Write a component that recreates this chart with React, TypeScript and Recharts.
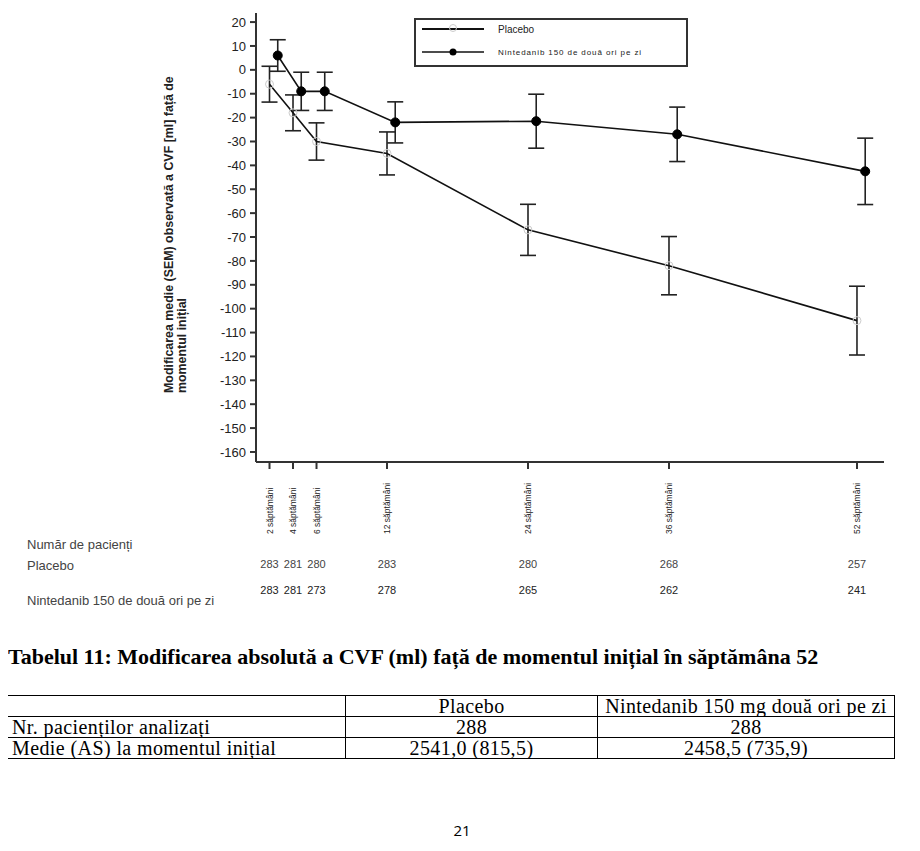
import { LineChart, Line, XAxis, YAxis, ErrorBar, Legend } from "recharts";

// weeks on study and the tick labels shown under the x axis
const weeks = [2, 4, 6, 12, 24, 36, 52];
const weekLabels = [
  "2 săptămâni",
  "4 săptămâni",
  "6 săptămâni",
  "12 săptămâni",
  "24 săptămâni",
  "36 săptămâni",
  "52 săptămâni",
];

// mean change from baseline (ml) and SEM
const placeboMean = [-6, -18, -30, -35, -67, -82, -105];
const placeboSem = [7.5, 7.5, 7.8, 9, 10.7, 12.2, 14.4];
const nintedanibMean = [6, -9, -9, -22, -21.5, -27, -42.5];
const nintedanibSem = [6.6, 8, 8, 8.6, 11.3, 11.4, 13.9];

// patients at each visit
const placeboN = [283, 281, 280, 283, 280, 268, 257];
const nintedanibN = [283, 281, 273, 278, 265, 262, 241];

const yTicks = [20, 10, 0, -10, -20, -30, -40, -50, -60, -70, -80, -90, -100, -110, -120, -130, -140, -150, -160];

// nintedanib points are nudged right so the error bars don't overlap
const NIN_SHIFT = 0.7;

const placeboRows = weeks.map((w, i) => ({ x: w, y: placeboMean[i], sem: placeboSem[i] }));
const nintedanibRows = weeks.map((w, i) => ({ x: w + NIN_SHIFT, y: nintedanibMean[i], sem: nintedanibSem[i] }));

const X_DOMAIN: [number, number] = [0.85, 54.3];
const Y_DOMAIN: [number, number] = [-164.2, 23.8];

const SANS = "'Liberation Sans', Arial, sans-serif";
const SERIF = "'Liberation Serif', 'Times New Roman', serif";

function WeekTick(props: any) {
  const { x, payload } = props;
  const i = weeks.indexOf(payload.value);
  const bx = x + 3;
  return (
    <g fontFamily={SANS}>
      <text x={bx} y={534} transform={`rotate(-90 ${bx} 534)`} fontSize={8.5} fill="#222">
        {weekLabels[i]}
      </text>
      <text x={x} y={568} textAnchor="middle" fontSize={11} fill="#444">
        {placeboN[i]}
      </text>
      <text x={x} y={594} textAnchor="middle" fontSize={11} fill="#222">
        {nintedanibN[i]}
      </text>
    </g>
  );
}

function LegendBox() {
  return (
    <div
      style={{
        width: 270,
        height: 45,
        border: "2px solid #333",
        background: "#fff",
        position: "relative",
      }}
    >
      <svg width={270} height={45} style={{ position: "absolute", left: 0, top: 0 }} fontFamily={SANS}>
        <line x1={6} x2={68} y1={9} y2={9} stroke="#111" strokeWidth={1.8} />
        <circle cx={37} cy={8} r={3.5} fill="none" stroke="#ccc" />
        <line x1={6} x2={68} y1={32} y2={32} stroke="#111" strokeWidth={1.3} />
        <circle cx={37} cy={32} r={3.5} fill="#000" />
        <text x={82} y={13} fontSize={10} fill="#222">Placebo</text>
        <text x={82} y={35} fontSize={8} letterSpacing={0.9} fill="#222">Nintedanib 150 de două ori pe zi</text>
      </svg>
    </div>
  );
}

function Chart() {
  return (
    <LineChart width={920} height={620} margin={{ top: 13, right: 36, bottom: 8, left: 196 }}>
      <XAxis
        dataKey="x"
        type="number"
        domain={X_DOMAIN}
        allowDataOverflow
        ticks={weeks}
        interval={0}
        height={150}
        tick={<WeekTick />}
        tickSize={7}
        axisLine={{ stroke: "#333", strokeWidth: 2 }}
        tickLine={{ stroke: "#333", strokeWidth: 2 }}
      />
      <XAxis
        xAxisId="top"
        orientation="top"
        type="number"
        domain={X_DOMAIN}
        allowDataOverflow
        height={0}
        tick={false}
        tickLine={false}
        axisLine={{ stroke: "#333", strokeWidth: 3 }}
      />
      <YAxis
        type="number"
        domain={Y_DOMAIN}
        allowDataOverflow
        ticks={yTicks}
        interval={0}
        width={60}
        tickSize={6}
        tickMargin={4}
        tick={{ fontSize: 13, fill: "#222", fontFamily: SANS }}
        axisLine={{ stroke: "#333", strokeWidth: 2 }}
        tickLine={{ stroke: "#333", strokeWidth: 2 }}
      />
      <YAxis
        yAxisId="right"
        orientation="right"
        type="number"
        domain={Y_DOMAIN}
        allowDataOverflow
        width={0}
        tick={false}
        tickLine={false}
        axisLine={{ stroke: "#333", strokeWidth: 2 }}
      />
      <Legend
        layout="vertical"
        align="center"
        verticalAlign="middle"
        content={() => <LegendBox />}
        wrapperStyle={{ position: "absolute", left: 414, top: 18, width: 274, margin: 0 }}
      />
      <Line
        data={placeboRows}
        dataKey="y"
        name="Placebo"
        stroke="#111"
        strokeWidth={1.6}
        dot={{ r: 4, fill: "none", stroke: "#ccc", strokeWidth: 1 }}
        activeDot={false}
        isAnimationActive={false}
      >
        <ErrorBar dataKey="sem" direction="y" width={8} stroke="#222" strokeWidth={1.6} isAnimationActive={false} />
      </Line>
      <Line
        data={nintedanibRows}
        dataKey="y"
        name="Nintedanib 150 de două ori pe zi"
        stroke="#111"
        strokeWidth={1.6}
        dot={{ r: 4.5, fill: "#000", stroke: "#000", strokeWidth: 1 }}
        activeDot={false}
        isAnimationActive={false}
      >
        <ErrorBar dataKey="sem" direction="y" width={8} stroke="#222" strokeWidth={1.6} isAnimationActive={false} />
      </Line>
    </LineChart>
  );
}

const cell: React.CSSProperties = {
  border: "1px solid #000",
  padding: "0 4px",
  height: 20,
  lineHeight: "20px",
  whiteSpace: "nowrap",
  overflow: "hidden",
};

const rowLabel: React.CSSProperties = {
  position: "absolute",
  left: 27,
  fontFamily: SANS,
  fontSize: 13,
  color: "#444",
  whiteSpace: "nowrap",
};

export default function App() {
  return (
    <div style={{ position: "relative", width: 920, height: 851, background: "#fff", margin: -8 }}>
      <div style={{ position: "absolute", left: 0, top: 0 }}>
        <Chart />
      </div>

      {/* y axis title, two rotated lines */}
      <svg width={220} height={460} style={{ position: "absolute", left: 0, top: 0 }}>
        <g fontFamily={SANS} fontWeight="bold" fontSize={12.4} fill="#222">
          <text x={173} y={393} transform="rotate(-90 173 393)">
            Modificarea medie (SEM) observată a CVF [ml] față de
          </text>
          <text x={186} y={393} transform="rotate(-90 186 393)">
            momentul inițial
          </text>
        </g>
      </svg>

      <div style={{ ...rowLabel, top: 537 }}>Număr de pacienți</div>
      <div style={{ ...rowLabel, top: 558 }}>Placebo</div>
      <div style={{ ...rowLabel, top: 593 }}>Nintedanib 150 de două ori pe zi</div>

      <div
        style={{
          position: "absolute",
          left: 8,
          top: 644,
          fontFamily: SERIF,
          fontWeight: "bold",
          fontSize: 22,
          color: "#000",
          whiteSpace: "nowrap",
        }}
      >
        Tabelul 11: Modificarea absolută a CVF (ml) față de momentul inițial în săptămâna 52
      </div>

      <table
        style={{
          position: "absolute",
          left: 7,
          top: 695,
          width: 888,
          tableLayout: "fixed",
          borderCollapse: "collapse",
          fontFamily: SERIF,
          fontSize: 20,
          letterSpacing: 0.4,
          color: "#000",
        }}
      >
        <colgroup>
          <col style={{ width: 338 }} />
          <col style={{ width: 252 }} />
          <col />
        </colgroup>
        <tbody>
          <tr>
            <td style={cell}></td>
            <td style={{ ...cell, textAlign: "center" }}>Placebo</td>
            <td style={{ ...cell, textAlign: "center" }}>Nintedanib 150 mg două ori pe zi</td>
          </tr>
          <tr>
            <td style={cell}>Nr. pacienților analizați</td>
            <td style={{ ...cell, textAlign: "center" }}>288</td>
            <td style={{ ...cell, textAlign: "center" }}>288</td>
          </tr>
          <tr>
            <td style={cell}>Medie (AS) la momentul inițial</td>
            <td style={{ ...cell, textAlign: "center" }}>2541,0 (815,5)</td>
            <td style={{ ...cell, textAlign: "center" }}>2458,5 (735,9)</td>
          </tr>
        </tbody>
      </table>

      <div
        style={{
          position: "absolute",
          left: 0,
          width: 924,
          top: 820,
          textAlign: "center",
          fontFamily: "'Open Sans', sans-serif",
          fontSize: 15,
          color: "#000",
        }}
      >
        21
      </div>
    </div>
  );
}
